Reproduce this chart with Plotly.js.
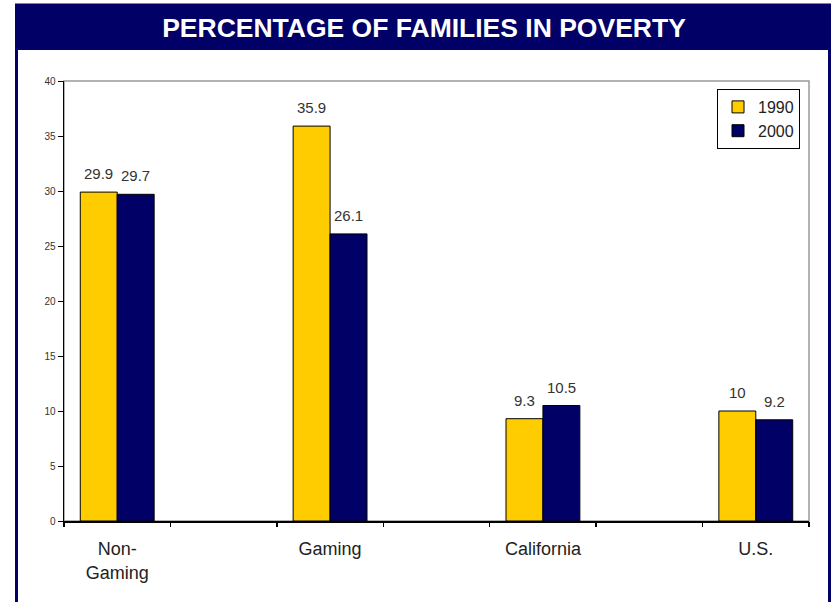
<!DOCTYPE html>
<html>
<head>
<meta charset="utf-8">
<script src="https://cdn.plot.ly/plotly-3.0.1.min.js"></script>
<style>
  html, body { margin: 0; padding: 0; background: #ffffff; }
  #chart { width: 837px; height: 602px; }
</style>
</head>
<body>
<div id="chart"></div>
<script>
// ---- data ----
const categories = ["Non-<br>Gaming", "Gaming", "California", "U.S."];
const seriesNames = ["1990", "2000"];
const values1990 = [29.9, 35.9, 9.3, 10];
const values2000 = [29.7, 26.1, 10.5, 9.2];
const yTickValues = [0, 5, 10, 15, 20, 25, 30, 35, 40];

// ---- layout helpers (pixel -> paper) ----
const W = 837, H = 602;
const M = { l: 64, r: 28, t: 81, b: 81 };
const PW = W - M.l - M.r, PH = H - M.t - M.b;
const px = v => (v - M.l) / PW;
const py = v => (H - M.b - v) / PH;

const NAVY = "#000066";
const YELLOW = "#FFCC00";
const FONT = "Liberation Sans, Arial, sans-serif";
const BARGAP = 0.653;
const X_RANGE = [-0.25, 3.25];
const unitPx = PW / (X_RANGE[1] - X_RANGE[0]);
const halfBarPx = (1 - BARGAP) / 4 * unitPx;

const traces = [
  {
    type: "bar", name: seriesNames[0], x: categories, y: values1990,
    marker: { color: YELLOW, line: { color: "#000000", width: 1 } },
    legendgroup: "a", hoverinfo: "x+y"
  },
  {
    type: "bar", name: seriesNames[1], x: categories, y: values2000,
    marker: { color: NAVY, line: { color: "#000000", width: 1 } },
    legendgroup: "b", hoverinfo: "x+y"
  },
  {
    type: "scatter", x: [], y: [], xaxis: "x2", yaxis: "y",
    showlegend: false, hoverinfo: "skip"
  }
];

const valueLabel = (vals, side) => vals.map((v, i) => ({
  x: categories[i], y: v, xref: "x", yref: "y",
  text: String(v), showarrow: false,
  xanchor: "center", yanchor: "bottom",
  xshift: side * halfBarPx, yshift: 8,
  font: { family: FONT, size: 15, color: "#333333" }
}));

const layout = {
  width: W, height: H,
  margin: M,
  paper_bgcolor: "#ffffff",
  plot_bgcolor: "rgba(0,0,0,0)",
  font: { family: FONT, color: "#222222" },
  title: {
    text: "<b>PERCENTAGE OF FAMILIES IN POVERTY</b>",
    font: { family: FONT, size: 26.5, color: "#ffffff" },
    x: 424 / W, xanchor: "center", xref: "container",
    y: 1 - 28 / H, yanchor: "middle", yref: "container"
  },
  barmode: "group",
  bargap: BARGAP,
  bargroupgap: 0,
  showlegend: true,
  legend: {
    x: px(800), xanchor: "right", y: py(89), yanchor: "top",
    bordercolor: "#000000", borderwidth: 1, bgcolor: "#ffffff",
    font: { family: FONT, size: 16, color: "#222222" },
    itemwidth: 30,
    tracegroupgap: 3, traceorder: "normal"
  },
  xaxis: {
    type: "category",
    range: X_RANGE,
    showline: true, linecolor: "#000000", linewidth: 1.5,
    ticks: "outside", ticklen: 11, tickcolor: "rgba(0,0,0,0)",
    showgrid: false, zeroline: false,
    tickfont: { family: FONT, size: 18, color: "#222222" },
    fixedrange: true
  },
  xaxis2: {
    type: "linear", overlaying: "x", anchor: "y", side: "bottom",
    range: X_RANGE, tickmode: "linear", tick0: X_RANGE[0], dtick: 0.5,
    ticks: "outside", ticklen: 5, tickcolor: "#000000", tickwidth: 1.5,
    showticklabels: false, showline: false, showgrid: false, zeroline: false,
    fixedrange: true
  },
  yaxis: {
    range: [0, 40],
    tickmode: "array", tickvals: yTickValues,
    ticks: "outside", ticklen: 5, tickcolor: "#000000", tickwidth: 1,
    showline: true, linecolor: "#000000", linewidth: 1.5,
    showgrid: false, zeroline: false,
    tickfont: { family: FONT, size: 10, color: "#333333" },
    fixedrange: true
  },
  annotations: valueLabel(values1990, -1).concat(valueLabel(values2000, 1)),
  shapes: [
    // navy title band
    { type: "rect", xref: "paper", yref: "paper", layer: "below",
      x0: px(15), x1: px(831), y0: py(50), y1: py(5),
      fillcolor: NAVY, line: { width: 0 } },
    // navy outer frame
    { type: "rect", xref: "paper", yref: "paper", layer: "below",
      x0: px(16.5), x1: px(829.5), y0: py(640), y1: py(5),
      fillcolor: "rgba(0,0,0,0)", line: { color: NAVY, width: 3 } },
    // gray plot frame
    { type: "rect", xref: "paper", yref: "paper", layer: "below",
      x0: 0, x1: 1, y0: 0, y1: 1,
      fillcolor: "rgba(0,0,0,0)", line: { color: "#999999", width: 1.5 } }
  ]
};

Plotly.newPlot("chart", traces, layout, { displayModeBar: false, staticPlot: true });
</script>
</body>
</html>
